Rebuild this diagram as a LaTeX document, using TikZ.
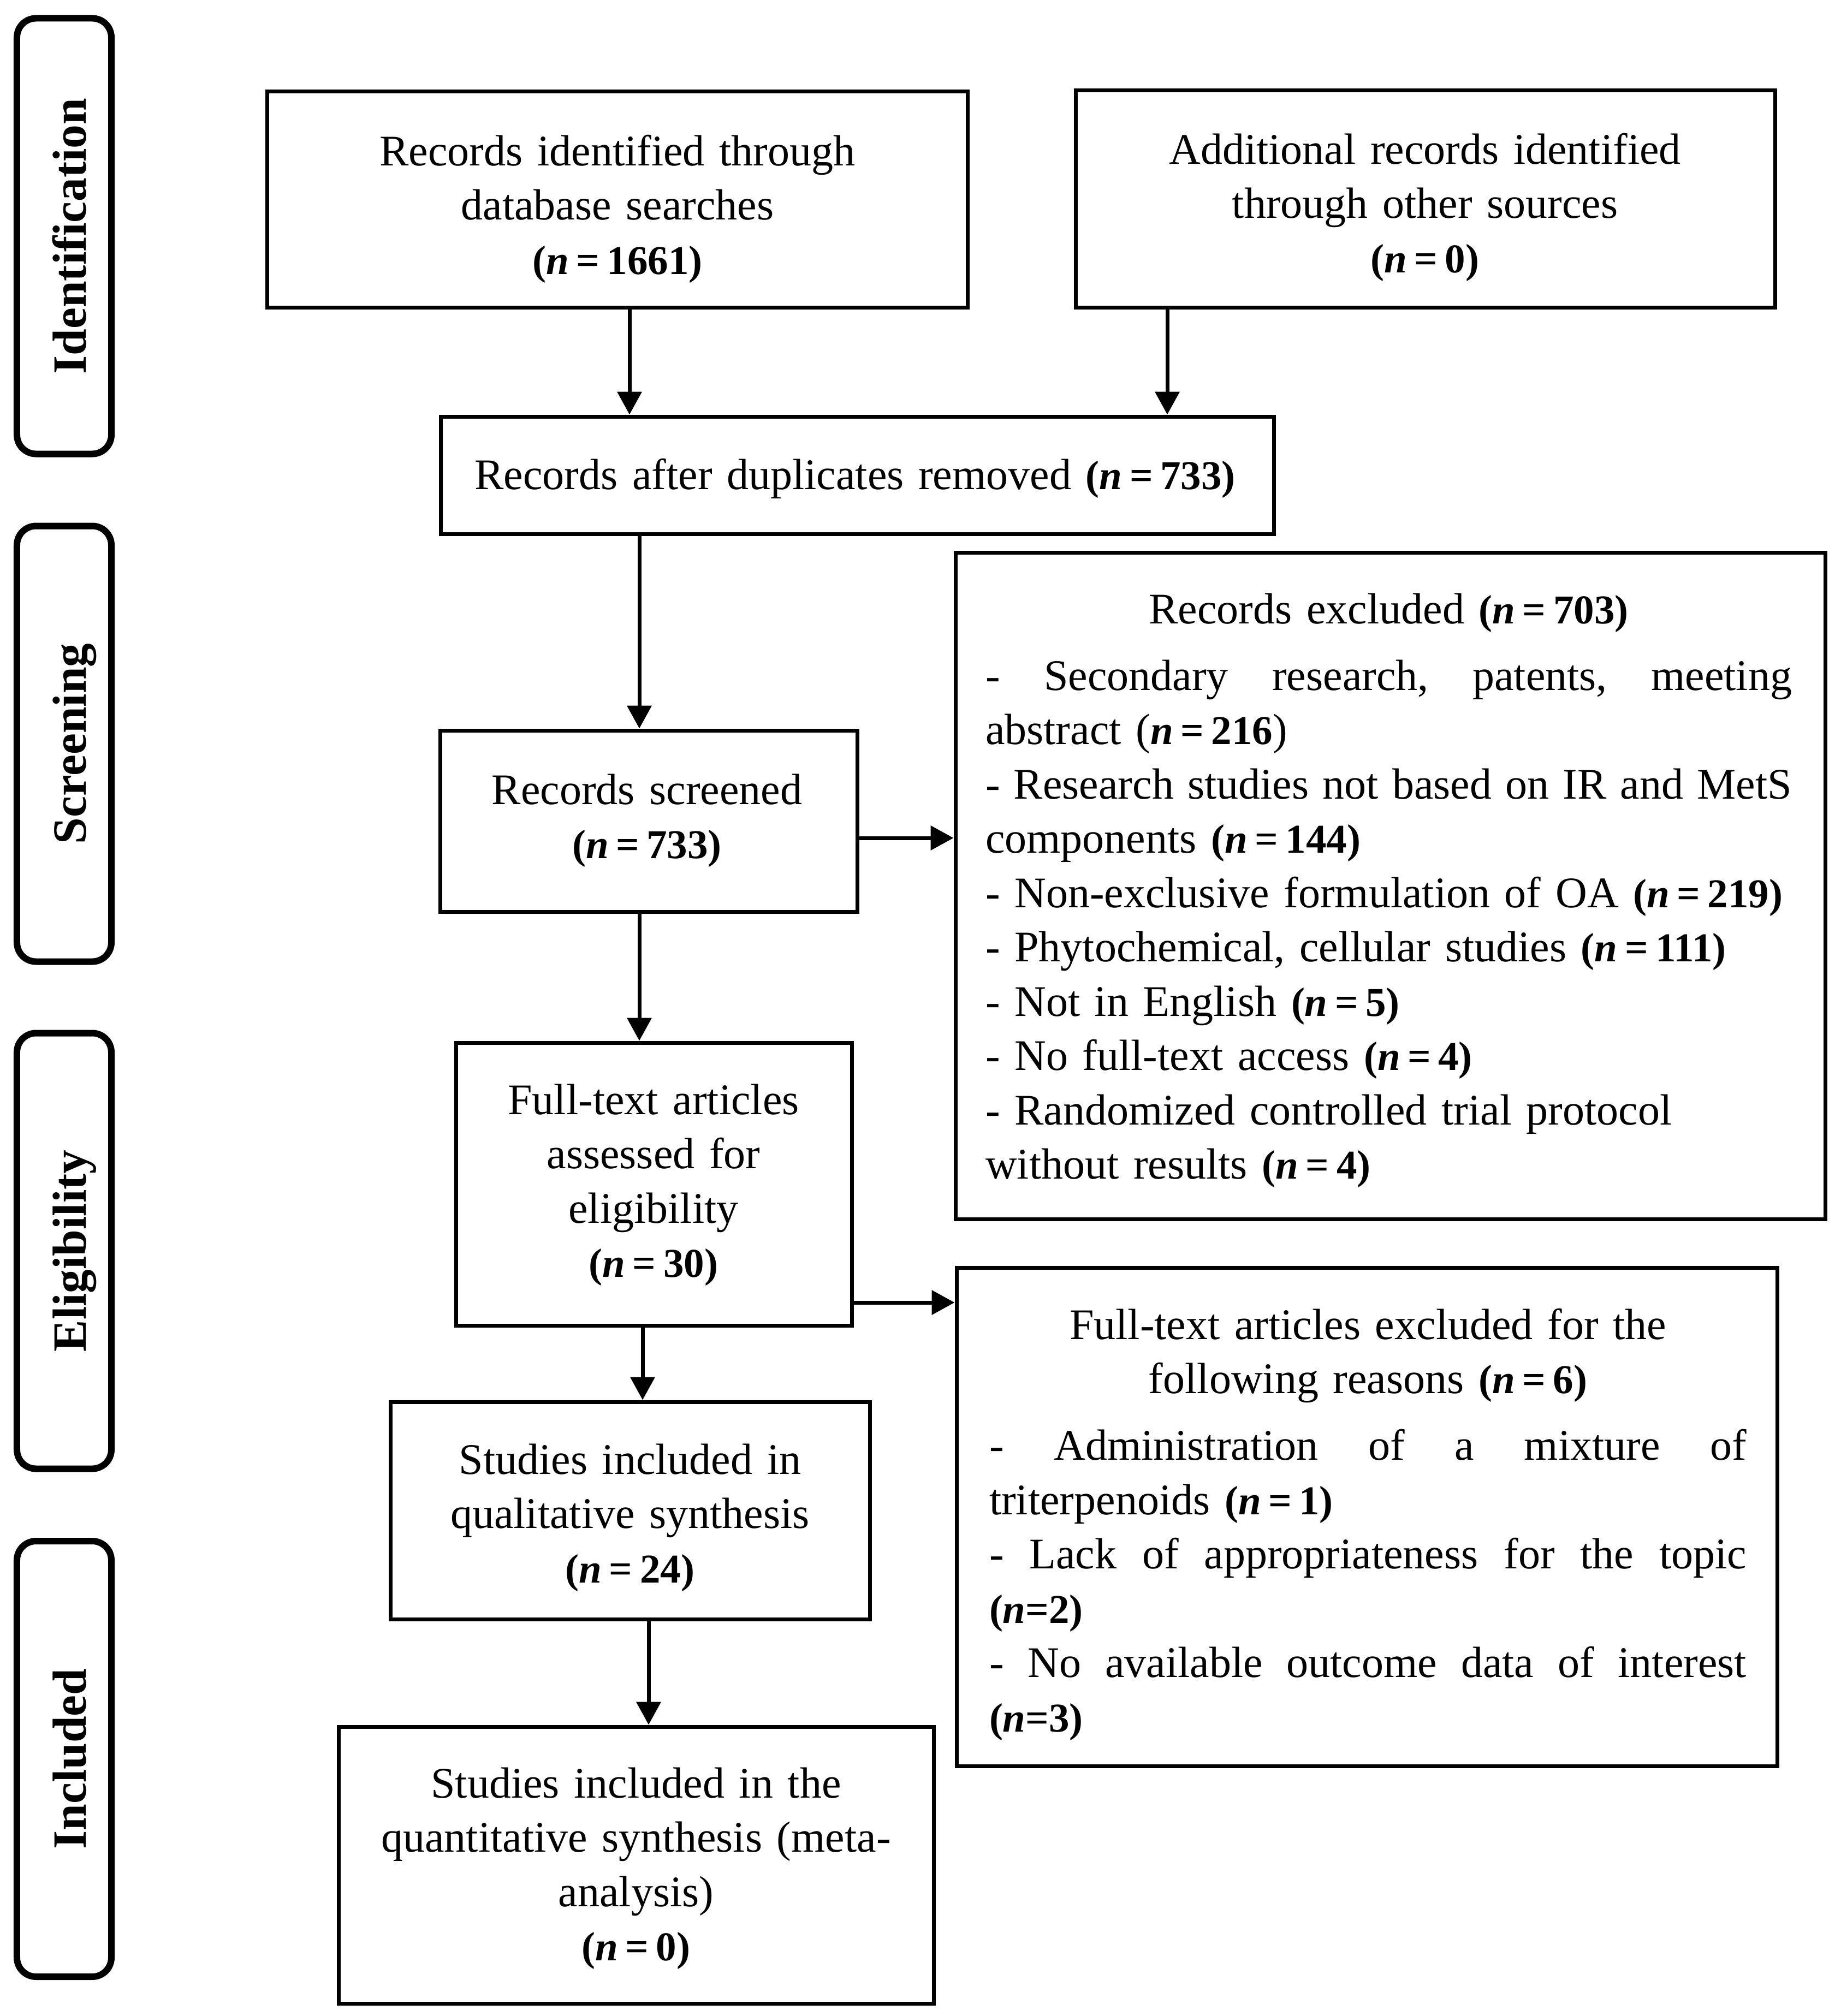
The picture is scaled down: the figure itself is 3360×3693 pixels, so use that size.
\documentclass[tikz,border=0pt]{standalone}
\usepackage{fontspec}
\setmainfont{Liberation Serif}
\usetikzlibrary{arrows.meta}
\newcommand{\nn}[1]{{\fontsize{15pt}{19.9pt}\selectfont\textbf{(\textit{n}\hspace{0.18em}=\hspace{0.18em}#1)}}}
\newcommand{\nnc}[1]{{\fontsize{15pt}{19.9pt}\selectfont\textbf{(\textit{n}=#1)}}}
\newcommand{\jl}[2]{\makebox[#1][l]{#2}}
\begin{document}
\begin{tikzpicture}[x=0.2pt,y=-0.2pt,
  box/.style={draw, line width=1.4pt, rectangle, inner sep=0pt},
  side/.style={draw, line width=2.4pt, rounded corners=7pt, inner sep=0pt, minimum width=34.6pt, minimum height=159.6pt},
  sidelabel/.style={rotate=90, anchor=base, inner sep=0pt, font=\fontsize{17.5pt}{20pt}\selectfont\bfseries},
  txt/.style={inner sep=0pt, font=\fontsize{16pt}{19.9pt}\selectfont},
  ctxt/.style={txt, align=center, anchor=base},
  ltxt/.style={txt, align=left, anchor=base west},
  arr/.style={line width=1.4pt, -{Triangle[length=8.4pt,width=8.8pt]}}
]
\useasboundingbox (0,0) rectangle (3360,3693);
\fill[white] (0,0) rectangle (3360,3693);

% side stage boxes
\node[side] (sId) at (117.5,432.5) {};
\node[side] (sSc) at (117.5,1362.5) {};
\node[side] (sEl) at (117.5,2291.5) {};
\node[side] (sIn) at (117.5,3222) {};
\node[sidelabel] (lId) at (157,432.5) {Identification};
\node[sidelabel] (lSc) at (157,1362.5) {Screening};
\node[sidelabel] (lEl) at (157,2291.5) {Eligibility};
\node[sidelabel] (lIn) at (157,3222) {Included};

% boxes
\node[box, minimum width=256.4pt, minimum height=79.2pt] (B1) at (1131,365) {};
\node[box, minimum width=256.2pt, minimum height=79.6pt] (B2) at (2610.5,364) {};
\node[box, minimum width=305pt, minimum height=43pt] (B3) at (1570.5,870.5) {};
\node[box, minimum width=152.8pt, minimum height=66.4pt] (B4) at (1188,1504) {};
\node[box, minimum width=145pt, minimum height=103.6pt] (B5) at (1197.5,2169) {};
\node[box, minimum width=175.6pt, minimum height=79.6pt] (B6) at (1154,2767) {};
\node[box, minimum width=217.8pt, minimum height=101.4pt] (B7) at (1165.5,3416.5) {};
\node[box, minimum width=318.6pt, minimum height=244.2pt] (B8) at (2546.5,1622.5) {};
\node[box, minimum width=300.6pt, minimum height=182.6pt] (B9) at (2503.5,2778.5) {};

% texts
\node[ctxt, text width=250pt] (t1) at (1131,303) {Records identified through\\database searches\\\nn{1661}};
\node[ctxt, text width=250pt] (t2) at (2610,300) {Additional records identified\\through other sources\\\nn{0}};
\node[ctxt, text width=300pt] (t3) at (1566,896) {Records after duplicates removed \nn{733}};
\node[ctxt, text width=150pt] (t4) at (1185,1473) {Records screened\\\nn{733}};
\node[ctxt, text width=140pt] (t5) at (1197,2041) {Full-text articles\\assessed for\\eligibility\\\nn{30}};
\node[ctxt, text width=170pt] (t6) at (1154,2700) {Studies included in\\qualitative synthesis\\\nn{24}};
\node[ctxt, text width=210pt] (t7) at (1165,3293) {Studies included in the\\quantitative synthesis (meta-\\analysis)\\\nn{0}};
\node[ltxt, text width=330pt] (t8) at (1804,1142) {%
\makebox[295.4pt][c]{Records excluded \nn{703}}\\[4.5pt]
\jl{295.4pt}{-\hfill Secondary\hfill research,\hfill patents,\hfill meeting}\\
abstract ({\fontsize{15pt}{19.9pt}\selectfont\textbf{\textit{n}\hspace{0.18em}=\hspace{0.18em}216}})\\
\jl{295.4pt}{-\hfill Research\hfill studies\hfill not\hfill based\hfill on\hfill IR\hfill and\hfill MetS}\\
components \nn{144}\\
- Non-exclusive formulation of OA \nn{219}\\
- Phytochemical, cellular studies \nn{111}\\
- Not in English \nn{5}\\
- No full-text access \nn{4}\\
- Randomized controlled trial protocol\\
without results \nn{4}};
\node[ltxt, text width=300pt] (t9) at (1811,2453) {%
\makebox[277.4pt][c]{Full-text articles excluded for the}\\
\makebox[277.4pt][c]{following reasons \nn{6}}\\[4.5pt]
\jl{277.4pt}{-\hfill Administration\hfill of\hfill a\hfill mixture\hfill of}\\
triterpenoids \nn{1}\\
\jl{277.4pt}{-\hfill Lack\hfill of\hfill appropriateness\hfill for\hfill the\hfill topic}\\
\nnc{2}\\
\jl{277.4pt}{-\hfill No\hfill available\hfill outcome\hfill data\hfill of\hfill interest}\\
\nnc{3}};

% arrow guide coordinates
\coordinate (c1) at (1153,0);
\coordinate (c2) at (2138,0);
\coordinate (c3) at (1171,0);
\coordinate (c5) at (1177,0);
\coordinate (c6) at (1188,0);
\coordinate (h1) at (0,1535);
\coordinate (h2) at (0,2386);

\draw[arr] (B1.south -| c1) -- (B3.north -| c1);
\draw[arr] (B2.south -| c2) -- (B3.north -| c2);
\draw[arr] (B3.south -| c3) -- (B4.north -| c3);
\draw[arr] (B4.south -| c3) -- (B5.north -| c3);
\draw[arr] (B5.south -| c5) -- (B6.north -| c5);
\draw[arr] (B6.south -| c6) -- (B7.north -| c6);
\draw[arr] (B4.east |- h1) -- (B8.west |- h1);
\draw[arr] (B5.east |- h2) -- (B9.west |- h2);
\end{tikzpicture}
\end{document}
